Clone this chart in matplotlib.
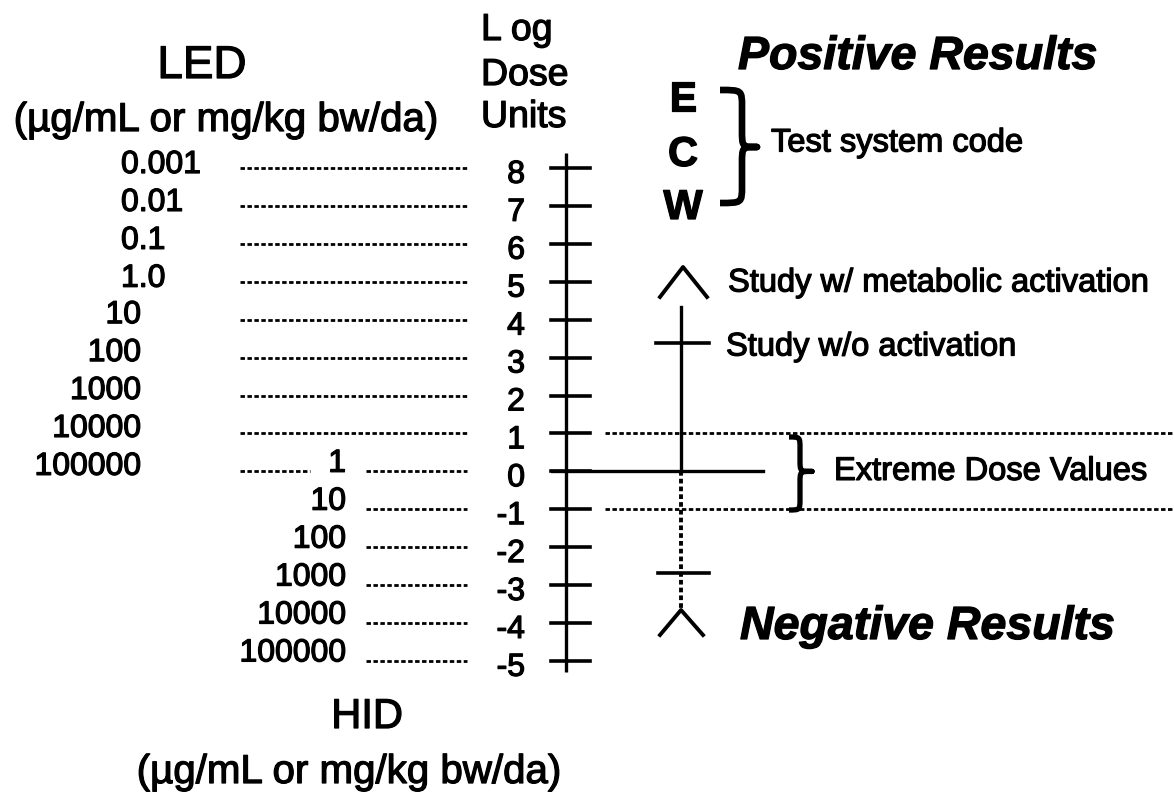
import matplotlib
matplotlib.use("Agg")
import matplotlib.pyplot as plt
import matplotlib.patheffects as pe
from matplotlib.path import Path
from matplotlib.patches import PathPatch

# ---- data ----
dose_units = [8, 7, 6, 5, 4, 3, 2, 1, 0, -1, -2, -3, -4, -5]
led_labels = ["0.001", "0.01", "0.1", "1.0", "10", "100", "1000", "10000", "100000"]  # units 8..0
hid_labels = ["1", "10", "100", "1000", "10000", "100000"]                           # units 0..-5
code_letters = ["E", "C", "W"]

plt.rcParams["font.family"] = ["Liberation Sans", "DejaVu Sans"]

W, H = 1174, 796
Y0, S = 471.4, 37.92          # layout: pixel row of unit 0, pixels per unit


def u(py):
    """layout helper: pixel row -> log dose units"""
    return (Y0 - py) / S


fig = plt.figure(figsize=(W / 100, H / 100), dpi=100)
ax = fig.add_axes([0, 0, 1, 1])
ax.set_xlim(0, W)
ax.set_ylim(u(H), u(0))
ax.axis("off")

DOT = (0, (1.6, 0.9))
K = "black"
HEAVY = [pe.withStroke(linewidth=0.9, foreground=K)]


def txt(x, y, s, **kw):
    return ax.text(x, y, s, path_effects=HEAVY, **kw)


# ---- headings ----
txt(202, u(66), "LED", ha="center", va="center", fontsize=33)
txt(226, u(120), "(µg/mL or mg/kg bw/da)", ha="center", va="center", fontsize=29)
txt(367, u(717), "HID", ha="center", va="center", fontsize=30)
txt(349, u(772), "(µg/mL or mg/kg bw/da)", ha="center", va="center", fontsize=29)
txt(481, u(30), "L og", ha="left", va="center", fontsize=27)
txt(481, u(75), "Dose", ha="left", va="center", fontsize=27)
txt(481, u(117), "Units", ha="left", va="center", fontsize=27)

# ---- log dose axis ----
ax.plot([566, 566], [u(153), u(672)], color=K, lw=2.4, solid_capstyle="butt")
for v in dose_units:
    ax.plot([551, 590], [v, v], color=K, lw=2.6)
    txt(525, v - 0.18, str(v), ha="right", va="center", fontsize=23)

# ---- LED column ----
for i, (lab, v) in enumerate(zip(led_labels, dose_units[:len(led_labels)])):
    if i < 4:
        txt(121, v + 0.08, lab, ha="left", va="center", fontsize=23)
    else:
        txt(141, v + 0.12, lab, ha="right", va="center", fontsize=23)
    if v != 0:
        ax.plot([240, 468], [v, v], color=K, lw=2.0, ls=DOT)
    else:
        ax.plot([240, 310], [v, v], color=K, lw=2.0, ls=DOT)

# ---- HID column ----
hid_units = dose_units[len(led_labels) - 1:]
for lab, v in zip(hid_labels, hid_units):
    txt(346, v + 0.2, lab, ha="right", va="center", fontsize=23)
    ax.plot([366, 467], [v, v], color=K, lw=2.0, ls=DOT)


# ---- braces ----
def brace(x0, xm, xt, ytop, ybot, ytip, r, lw):
    verts = [(x0, ytop), (xm, ytop), (xm, ytop), (xm, ytop - r),
             (xm, ytip + r),
             (xm, ytip), (xm, ytip), (xt, ytip),
             (xm, ytip), (xm, ytip), (xm, ytip - r),
             (xm, ybot + r),
             (xm, ybot), (xm, ybot), (x0, ybot)]
    codes = [Path.MOVETO, Path.CURVE4, Path.CURVE4, Path.CURVE4,
             Path.LINETO,
             Path.CURVE4, Path.CURVE4, Path.CURVE4,
             Path.CURVE4, Path.CURVE4, Path.CURVE4,
             Path.LINETO,
             Path.CURVE4, Path.CURVE4, Path.CURVE4]
    ax.add_patch(PathPatch(Path(verts, codes), fill=False, lw=lw,
                           edgecolor=K, capstyle="butt", joinstyle="round"))


# ---- right side legend ----
txt(738, u(57), "Positive Results", ha="left", va="center",
    fontsize=33.5, fontweight="bold", fontstyle="italic")
for letter, py in zip(code_letters, [100, 155, 208]):
    txt(683, u(py), letter, ha="center", va="center", fontsize=30, fontweight="bold")
brace(720, 742, 757, u(90), u(203), u(147), 0.45, 4.8)
txt(771, u(143), "Test system code", ha="left", va="center", fontsize=23.5)

# study marker
ax.plot([660, 683, 707], [u(297), u(267), u(297)], color=K, lw=2.8)
txt(728, u(283), "Study w/ metabolic activation", ha="left", va="center", fontsize=23.5)
ax.plot([681, 681], [u(307), 0], color=K, lw=2.4)
ax.plot([681, 681], [0, u(610)], color=K, lw=2.8, ls=(0, (1.2, 0.8)))
ax.plot([656, 709], [u(343), u(343)], color=K, lw=2.6)
txt(726, u(347), "Study w/o activation", ha="left", va="center", fontsize=23.5)
ax.plot([658, 709], [u(573), u(573)], color=K, lw=2.6)

# extreme dose band
ax.plot([605, W], [1, 1], color=K, lw=2.0, ls=DOT)
ax.plot([605, W], [-1, -1], color=K, lw=2.0, ls=DOT)
ax.plot([552, 763], [0, 0], color=K, lw=2.4)
brace(789, 800, 812, u(437), u(510), 0, 0.3, 3.8)
txt(834, 0, "Extreme Dose Values", ha="left", va="center", fontsize=23.5)

ax.plot([660, 681, 703], [u(635), u(610), u(635)], color=K, lw=2.8)
txt(740, u(627), "Negative Results", ha="left", va="center",
    fontsize=33.5, fontweight="bold", fontstyle="italic")

fig.savefig("out.png", dpi=100, facecolor="white")
